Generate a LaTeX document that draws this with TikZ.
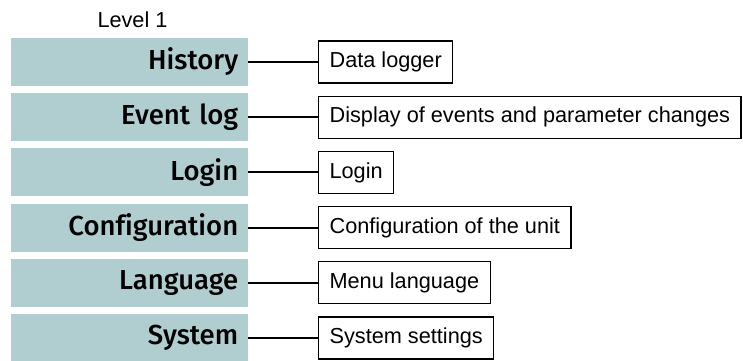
\documentclass[tikz,border=0pt]{standalone}
\usepackage{fontspec}
\setmainfont{Liberation Sans}
\newfontfamily\barfont{Fira Sans Medium}[Ligatures=NoCommon]
\usetikzlibrary{positioning}
\definecolor{barteal}{RGB}{176,206,207}

\tikzset{
  menubar/.style={fill=barteal, minimum width=237pt, minimum height=48pt,
    inner sep=0pt, text width=217pt, align=right,
    font=\barfont\fontsize{27.5}{30}\selectfont, anchor=west},
  subbox/.style={draw=black, line width=1.2pt, minimum height=42pt,
    inner xsep=11pt, font=\fontsize{21.7}{24}\selectfont, anchor=west},
  link/.style={line width=2pt}
}

\begin{document}
\begin{tikzpicture}[x=1pt,y=1pt]
\useasboundingbox (0,0) rectangle (743,-360);

% heading over the menu column
\node[font=\fontsize{21.7}{24}\selectfont] (level) at (132.5,-20) {Level 1};

% menu entries and what they open
\foreach \name/\desc [count=\i] in {History/Data logger,
    Event log/Display of events and parameter changes,
    Login/Login,
    Configuration/Configuration of the unit,
    Language/Menu language,
    System/System settings} {
  \node[menubar] (bar\i) at (11,{-62-55.2*(\i-1)}) {\name};
  \node[subbox] (box\i) at (318,{-62-55.2*(\i-1)}) {\desc};
  \draw[link] (bar\i) -- (box\i);
}

\end{tikzpicture}
\end{document}
